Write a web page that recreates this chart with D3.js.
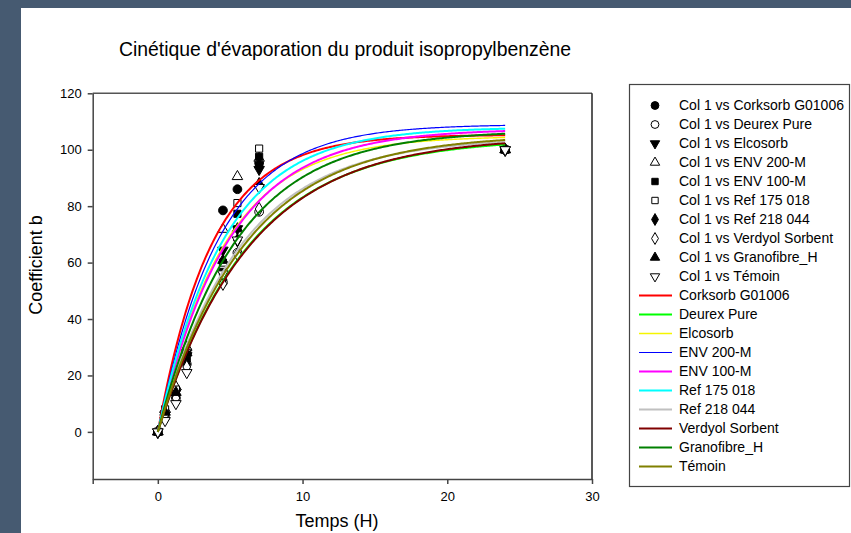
<!DOCTYPE html>
<html><head><meta charset="utf-8">
<script src="https://cdn.jsdelivr.net/npm/d3@7"></script>
<style>
body{margin:0;background:#465a71;}
svg{display:block;font-family:"Liberation Sans",Arial,sans-serif;}
</style>
</head><body>
<svg id="chart" width="851" height="533"></svg>
<script>
// ---------- data ----------
const times = [0, 0.5, 1.25, 2, 4.5, 5.5, 7, 24];
const corksorb   = [0, 7, 15, 29, 78.5, 86, 95.3, 100];
const deurex     = [0, 5, 12, 24, 53, 63.5, 78, 100];
const elcosorb   = [0, 6, 14, 27, 64.4, 72, 93, 100];
const env200     = [0, 8, 16, 30, 71.8, 90.5, 97, 100];
const env100     = [0, 7, 13, 26, 56.7, 77.3, 97.5, 100];
const ref175     = [0, 8, 15, 28, 60, 81.1, 100.4, 100];
const ref218     = [0, 6, 13, 24, 54, 67.9, 94.5, 100];
const verdyol    = [0, 6, 12, 23, 52.5, 63, 79, 100];
const granofibre = [0, 7, 14, 28, 60.8, 72, 88, 100];
const temoin     = [0, 4, 10, 21, 56, 68, 86.6, 100];

const seriesNames = ["Corksorb G01006","Deurex Pure","Elcosorb","ENV 200-M","ENV 100-M",
  "Ref 175 018","Ref 218 044","Verdyol Sorbent","Granofibre_H","Témoin"];
const seriesValues = [corksorb, deurex, elcosorb, env200, env100, ref175, ref218, verdyol, granofibre, temoin];
// fitted exponential-rise parameters  y = a (1 - exp(-b t))
const fitA = [105.3, 104.1, 104.9, 109.0, 107.4, 108.0, 104.3, 104.7, 106.9, 105.4];
const fitB = [0.268, 0.160, 0.218, 0.235, 0.205, 0.220, 0.175, 0.157, 0.186, 0.166];
const fitEnd = 24;

const xTicks = [0, 10, 20, 30];
const yTicks = [0, 20, 40, 60, 80, 100, 120];

// ---------- styles ----------
const markerShapes = ["circle","circle","triangleDown","triangle","square","square","diamond","diamond","triangle","triangleDown"];
const markerFilled = [true,false,true,false,true,false,true,false,true,false];
const lineColors = ["#ff0000","#00ff00","#f5f500","#0000ff","#ff00ff","#00ffff","#c0c0c0","#800000","#008000","#808000"];
const lineWidths = [2,2,1.4,1.2,2,2,2,2,2,2];

const svg = d3.select("#chart");
svg.append("rect").attr("x",21).attr("y",8).attr("width",830).attr("height",525).attr("fill","#ffffff");

const x = d3.scaleLinear().domain([-4.5, 30]).range([92.7, 592]);
const y = d3.scaleLinear().domain([-16.7, 120]).range([479, 93.3]);

// title
svg.append("text").attr("x",345).attr("y",56).attr("text-anchor","middle")
  .attr("font-size",19.4).attr("fill","#000").text("Cinétique d'évaporation du produit isopropylbenzène");

// frame top/right
svg.append("line").attr("x1",x(-4.5)).attr("x2",x(30)).attr("y1",y(120)).attr("y2",y(120)).attr("stroke","#555").attr("stroke-width",1.5);
svg.append("line").attr("x1",x(30)).attr("x2",x(30)).attr("y1",y(120)).attr("y2",y(-16.7)).attr("stroke","#222").attr("stroke-width",1.5);

// axes
const xAxis = d3.axisBottom(x).tickValues([-4.5].concat(xTicks)).tickSize(5).tickSizeOuter(0)
  .tickFormat(d => d === -4.5 ? "" : d3.format("d")(d));
const gx = svg.append("g").attr("transform",`translate(0,${y(-16.7)})`).call(xAxis);
gx.select(".domain").attr("stroke","#444").attr("stroke-width",1.5);
gx.selectAll(".tick line").attr("stroke","#444").attr("stroke-width",1.5);
gx.selectAll(".tick text").attr("font-size",13).attr("font-family","Liberation Sans, Arial, sans-serif").attr("dy","1.05em").attr("fill","#000");

const yAxis = d3.axisLeft(y).tickValues(yTicks).tickSize(5).tickSizeOuter(0).tickFormat(d3.format("d"));
const gy = svg.append("g").attr("transform",`translate(${x(-4.5)},0)`).call(yAxis);
gy.select(".domain").attr("stroke","#444").attr("stroke-width",1.5);
gy.selectAll(".tick line").attr("stroke","#444").attr("stroke-width",1.5);
gy.selectAll(".tick text").attr("font-size",13).attr("font-family","Liberation Sans, Arial, sans-serif").attr("x",-11).attr("fill","#000");

// axis titles
svg.append("text").attr("x",337).attr("y",527).attr("text-anchor","middle").attr("font-size",18).text("Temps (H)");
svg.append("text").attr("transform","translate(42,265) rotate(-90)").attr("text-anchor","middle").attr("font-size",18).text("Coefficient b");

// markers
function symPath(shape, size){
  if (shape === "circle") return d3.symbol(d3.symbolCircle, size)();
  if (shape === "square") return d3.symbol(d3.symbolSquare, size*0.85)();
  if (shape === "diamond") return d3.symbol(d3.symbolDiamond, size*0.85)();
  return d3.symbol(d3.symbolTriangle, size*0.8)();
}
function drawMarker(g, shape, filled, cx, cy, size){
  g.append("path").attr("d", symPath(shape,size))
    .attr("transform", `translate(${cx},${cy})` + (shape==="triangleDown" ? " rotate(180)" : ""))
    .attr("fill", filled ? "#000" : "#fff").attr("stroke","#000").attr("stroke-width",1);
}
const gPts = svg.append("g");
seriesValues.forEach((vals, i) => {
  vals.forEach((v, j) => drawMarker(gPts, markerShapes[i], markerFilled[i], x(times[j]), y(v), 60));
});

// fitted curves
const line = d3.line().x(d => x(d[0])).y(d => y(d[1]));
const tSamples = d3.range(0, fitEnd + 0.001, 0.1);
const gLines = svg.append("g");
fitA.forEach((a, i) => {
  const pts = tSamples.map(t => [t, a * (1 - Math.exp(-fitB[i] * t))]);
  gLines.append("path").attr("d", line(pts)).attr("fill","none")
    .attr("stroke", lineColors[i]).attr("stroke-width", lineWidths[i]);
});

// legend
const lg = svg.append("g");
lg.append("rect").attr("x",629.5).attr("y",84.5).attr("width",220).attr("height",402)
  .attr("fill","#fff").attr("stroke","#444").attr("stroke-width",1.2);
const rowY = i => 105.5 + 19.0 * i;
seriesNames.forEach((n, i) => {
  drawMarker(lg, markerShapes[i], markerFilled[i], 655, rowY(i), 48);
  lg.append("text").attr("x",679).attr("y",rowY(i)).attr("dy","0.35em").attr("font-size",14).text("Col 1 vs " + n);
});
seriesNames.forEach((n, i) => {
  const yy = rowY(10 + i);
  lg.append("line").attr("x1",639).attr("x2",672).attr("y1",yy).attr("y2",yy)
    .attr("stroke",lineColors[i]).attr("stroke-width",lineWidths[i]);
  lg.append("text").attr("x",679).attr("y",yy).attr("dy","0.35em").attr("font-size",14).text(n);
});
</script>
</body></html>
